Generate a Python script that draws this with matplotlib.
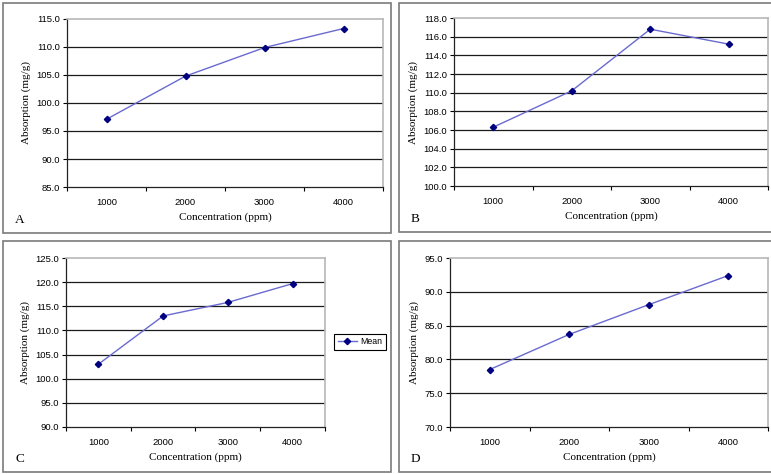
import matplotlib
matplotlib.use("Agg")
import matplotlib.pyplot as plt
from matplotlib.patches import Rectangle

W, H = 771, 474

categories = ["1000", "2000", "3000", "4000"]
values_a = [97.1, 104.8, 109.9, 113.3]
values_b = [106.3, 110.2, 116.8, 115.2]
values_c = [103.0, 113.0, 115.8, 119.7]
values_d = [78.5, 83.7, 88.1, 92.4]

panels = [
    dict(letter="A", vals=values_a, ylim=(85, 115), step=5.0,
         plot=(67, 19, 383, 187), box=(3, 3, 391, 233)),
    dict(letter="B", vals=values_b, ylim=(100, 118), step=2.0,
         plot=(454, 18, 768, 186), box=(399, 3, 772, 232)),
    dict(letter="C", vals=values_c, ylim=(90, 125), step=5.0,
         plot=(66, 258, 325, 427), box=(3, 241, 391, 472)),
    dict(letter="D", vals=values_d, ylim=(70, 95), step=5.0,
         plot=(450, 258, 768, 427), box=(399, 241, 772, 472)),
]

fig = plt.figure(figsize=(W / 100, H / 100), dpi=100)
fig.patch.set_facecolor("white")

serif = "Liberation Serif"
sans = "Liberation Sans"

def rect(l, t, r, b):
    return [l / W, 1 - b / H, (r - l) / W, (b - t) / H]

for p in panels:
    l, t, r, b = p["box"]
    fig.patches.append(Rectangle((l / W, 1 - b / H), (r - l) / W, (b - t) / H,
                                 transform=fig.transFigure, fill=False,
                                 edgecolor="#7a7a7a", linewidth=1.2))
    ax = fig.add_axes(rect(*p["plot"]))
    x = list(range(1, len(categories) + 1))
    line, = ax.plot(x, p["vals"], color="#6a6ad0", linewidth=1.0,
                    marker="D", markersize=3.2, markerfacecolor="#000080",
                    markeredgecolor="#000080", label="Mean")
    y0, y1 = p["ylim"]
    ax.set_ylim(y0, y1)
    ax.set_xlim(0.5, len(categories) + 0.5)
    n = int(round((y1 - y0) / p["step"]))
    yt = [y0 + i * p["step"] for i in range(n + 1)]
    ax.set_yticks(yt)
    ax.set_yticklabels([f"{v:.1f}" for v in yt], fontfamily=sans, fontsize=6.8)
    for v in yt[1:-1]:
        ax.axhline(v, color="#1a1a1a", linewidth=0.9, zorder=0)
    ax.set_xticks(x)
    ax.set_xticklabels(categories, fontfamily=sans, fontsize=6.8)
    ax.set_xticks([0.5 + i for i in range(len(categories) + 1)], minor=True)
    ax.tick_params(axis="x", which="major", length=0, pad=8)
    ax.tick_params(axis="x", which="minor", length=3, width=0.8, direction="out")
    ax.tick_params(axis="y", length=3, width=0.8, direction="out", pad=2)
    for s in ("top", "right"):
        ax.spines[s].set_color("#b8b8b8")
        ax.spines[s].set_linewidth(1.2)
    for s in ("left", "bottom"):
        ax.spines[s].set_color("#222222")
        ax.spines[s].set_linewidth(0.9)
    ax.set_ylabel("Absorption (mg/g)", fontfamily=serif, fontsize=8, labelpad=4)
    ax.set_xlabel("Concentration (ppm)", fontfamily=serif, fontsize=8, labelpad=4)
    fig.text((l + 12) / W, 1 - (b - 13) / H, p["letter"], fontfamily=serif,
             fontsize=9.5, ha="left", va="center")
    if p["letter"] == "C":
        leg = ax.legend(handles=[line], loc="center left",
                        bbox_to_anchor=(334 / W, 1 - 342 / H),
                        bbox_transform=fig.transFigure, prop=dict(family=sans, size=6.3),
                        fancybox=False, framealpha=1, edgecolor="black",
                        handlelength=2.2, borderpad=0.4, handletextpad=0.4,
                        borderaxespad=0)
        leg.get_frame().set_linewidth(0.8)

fig.savefig("out.png", dpi=100)
